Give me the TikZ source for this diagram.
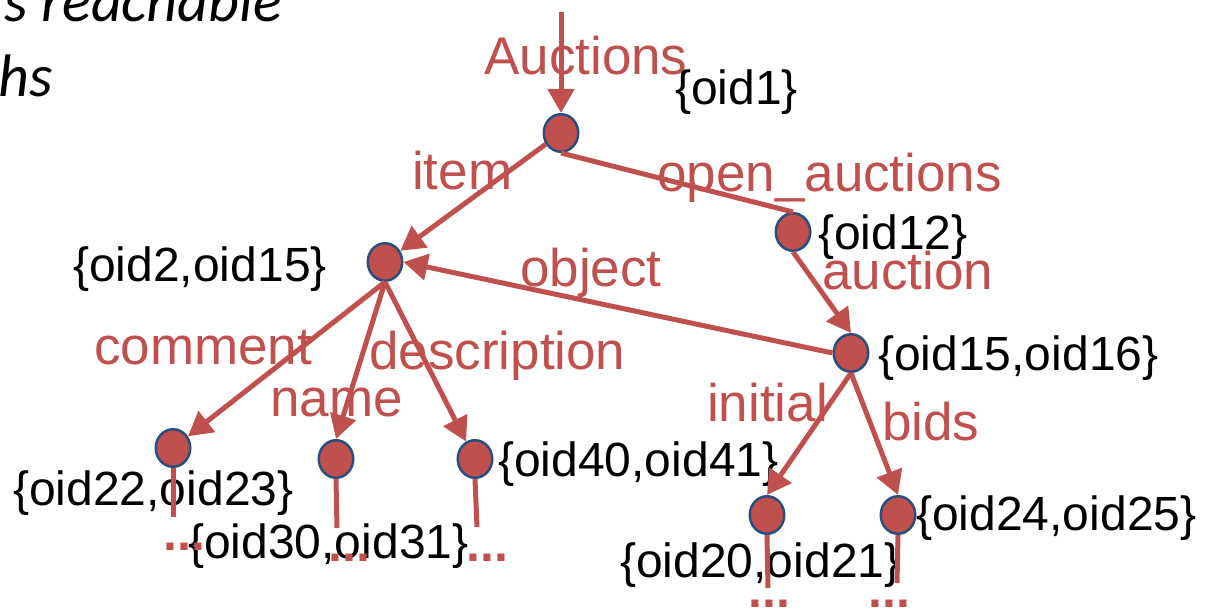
\documentclass[tikz,border=0pt]{standalone}
\usepackage{fontspec}
\setmainfont{Liberation Sans}
\newfontfamily\calib{Carlito}
\usetikzlibrary{arrows.meta,shapes.geometric}
\definecolor{nred}{HTML}{C0504D}
\definecolor{nblue}{HTML}{2A4E7F}
\begin{document}
\begin{tikzpicture}[x=1pt,y=-1pt,
  obj/.style={ellipse, minimum width=34.5pt, minimum height=37.5pt, inner sep=0pt,
    fill=nred, draw=nblue, line width=2.5pt},
  edge/.style={draw=nred, line width=5pt, -{Triangle[length=24pt,width=26pt]}},
  plainedge/.style={draw=nred, line width=5pt},
  stem/.style={draw=nred, line width=5pt},
  lbl/.style={text=nred, font=\fontsize{53}{60}\selectfont, inner sep=0pt, anchor=base west},
  oid/.style={text=black, font=\fontsize{48}{56}\selectfont, inner sep=0pt, anchor=base west},
  dots/.style={text=nred, font=\bfseries\fontsize{50}{60}\selectfont, inner sep=0pt, anchor=base west},
  note/.style={text=black, font=\calib\itshape\fontsize{60}{70}\selectfont, inner sep=0pt, anchor=base east}]
\useasboundingbox (0,0) rectangle (1205,609);
\clip (0,0) rectangle (1205,609);

% top-left cut text
\node[note] (t1) at (282,22) {s reachable};
\node[note] (t2) at (53,97) {hs};

% labels
\node[lbl] (lAuc) at (484,75) {Auctions};
\node[lbl] (lItem) at (412,190) {item};
\node[lbl] (lOpen) at (657,192) {open\_auctions};
\node[lbl] (lAuction) at (822,290) {auction};
\node[lbl] (lObj) at (520,287) {object};
\node[lbl] (lCom) at (94,365) {comment};
\node[lbl] (lDesc) at (369,370) {description};
\node[lbl] (lName) at (270,417) {name};
\node[lbl] (lInit) at (707,422) {initial};
\node[lbl] (lBids) at (882,440) {bids};

\node[oid] (o1) at (675,105) {\{oid1\}};
\node[oid] (o12) at (818,250) {\{oid12\}};
\node[oid] (o2) at (73,282) {\{oid2,oid15\}};
\node[oid] (o15) at (878,371) {\{oid15,oid16\}};
\node[oid] (o22) at (13,505) {\{oid22,oid23\}};
\node[oid] (o30) at (188,558) {\{oid30,oid31\}};
\node[oid] (o40) at (498,476) {\{oid40,oid41\}};
\node[oid] (o20) at (620,577) {\{oid20,oid21\}};
\node[oid] (o24) at (916,530) {\{oid24,oid25\}};

% nodes
\node[obj] (root) at (561,133) {};
\node[obj] (n2) at (385,262) {};
\node[obj] (n12) at (793,232) {};
\node[obj] (n15) at (851,353) {};
\node[obj] (n22) at (173,448) {};
\node[obj] (n30) at (336,459) {};
\node[obj] (n40) at (475,459) {};
\node[obj] (n20) at (767,515) {};
\node[obj] (n24) at (898,515) {};

% edges
\coordinate (top) at (561,12);
\draw[edge] (top) -- (root.north);
\draw[edge] (root) -- (n2);
\draw[plainedge] (root.south) -- (n12.north);
\draw[edge] (n12.south) -- (n15.north);
\draw[edge] (n15.west) -- (n2.east);
\draw[edge] (n2.south) -- (n22);
\draw[edge] (n2.south) -- (n30.north);
\draw[edge] (n2.south) -- (n40);
\draw[edge] (n15.south) -- (n20.north);
\draw[edge] (n15.south) -- (n24.north);

% stems
\coordinate (s22) at (173,517);
\coordinate (s30) at (337,528);
\coordinate (s40) at (477,527);
\coordinate (s20) at (768,588);
\coordinate (s24) at (897,583);
\draw[stem] (n22.south) -- (s22);
\draw[stem] (n30.south) -- (s30);
\draw[stem] (n40.south) -- (s40);
\draw[stem] (n20.south) -- (s20);
\draw[stem] (n24.south) -- (s24);

% continuation dots
\node[dots] (d22) at (163,550) {...};
\node[dots] (d30) at (328,561) {...};
\node[dots] (d40) at (466,561) {...};
\node[dots] (d20) at (748,607) {...};
\node[dots] (d24) at (868,607) {...};
\end{tikzpicture}
\end{document}
